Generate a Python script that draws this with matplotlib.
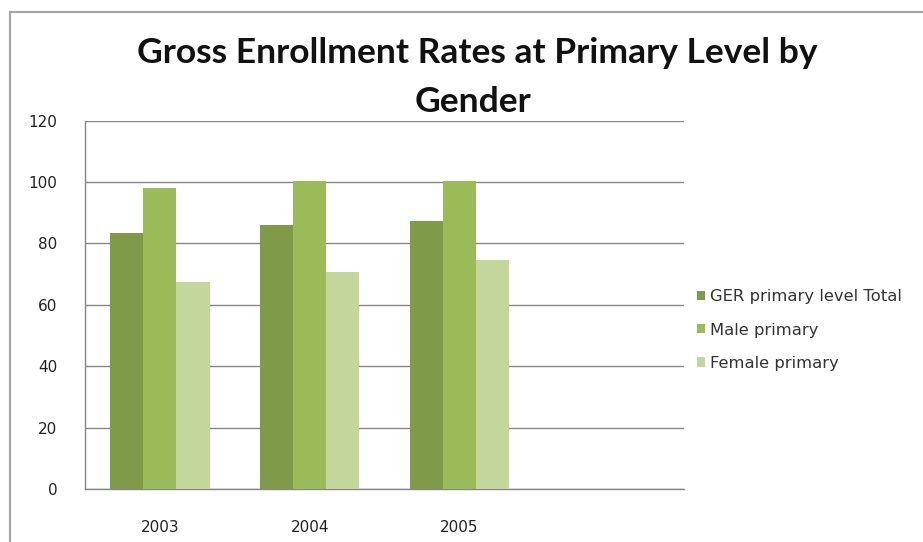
import matplotlib
matplotlib.use("Agg")
import matplotlib.pyplot as plt
from matplotlib.patches import Rectangle
import numpy as np

# data
years = ["2003", "2004", "2005"]
ger_total = [83.3, 85.9, 87.4]
male_primary = [98.0, 100.3, 100.4]
female_primary = [67.5, 70.8, 74.6]

series_names = ["GER primary level Total", "Male primary", "Female primary"]
series_colors = ["#7f9a48", "#9bbb59", "#c3d69b"]
y_ticks = [0, 20, 40, 60, 80, 100, 120]

plt.rcParams["font.family"] = ["DejaVu Sans"]

W, H = 923, 542
fig = plt.figure(figsize=(W / 100, H / 100), dpi=100)
fig.patch.set_facecolor("white")

# outer chart frame (top and left edges visible in the reference)
fig.patches.append(Rectangle((10 / W, -0.1), 1.2, 1 - 12 / H + 0.1,
                             transform=fig.transFigure, fill=False,
                             edgecolor="#a6a6a6", linewidth=1.6))

ax = fig.add_axes([85 / W, 1 - 489 / H, 599 / W, 368.3 / H])

x = np.arange(len(years))
width = 0.222
all_series = [ger_total, male_primary, female_primary]
for i, (vals, name, col) in enumerate(zip(all_series, series_names, series_colors)):
    ax.bar(x + (i - 1) * width, vals, width, color=col, label=name,
           linewidth=0, zorder=3)

# one empty category slot on the right, as in the source
ax.set_xlim(-0.5, 3.5)
ax.set_ylim(0, 120)
ax.set_yticks(y_ticks)
ax.set_xticks(x)
ax.set_xticklabels(years)
ax.yaxis.grid(True, color="#868686", linewidth=1.0, zorder=0)
ax.tick_params(axis="both", length=0, labelsize=11, colors="#222222")
ax.tick_params(axis="y", pad=20)
ax.tick_params(axis="x", pad=22)
for s in ["top", "right"]:
    ax.spines[s].set_visible(False)
for s in ["left", "bottom"]:
    ax.spines[s].set_color("#868686")
    ax.spines[s].set_linewidth(1.0)

title_font = dict(ha="center", va="baseline", fontsize=25.5, fontweight="bold",
                  family=["Lato", "DejaVu Sans"], color="#111111")
fig.text(477 / W, 1 - 63 / H, "Gross Enrollment Rates at Primary Level by", **title_font)
fig.text(473 / W, 1 - 112 / H, "Gender", **title_font)

leg = fig.legend(loc="center left", bbox_to_anchor=(697 / W, 1 - 330 / H),
                 frameon=False, fontsize=11.8, handlelength=0.5,
                 handleheight=0.5, handletextpad=0.3, labelspacing=1.12,
                 borderpad=0, borderaxespad=0)
for t in leg.get_texts():
    t.set_color("#333333")

fig.savefig("out.png", dpi=100)
